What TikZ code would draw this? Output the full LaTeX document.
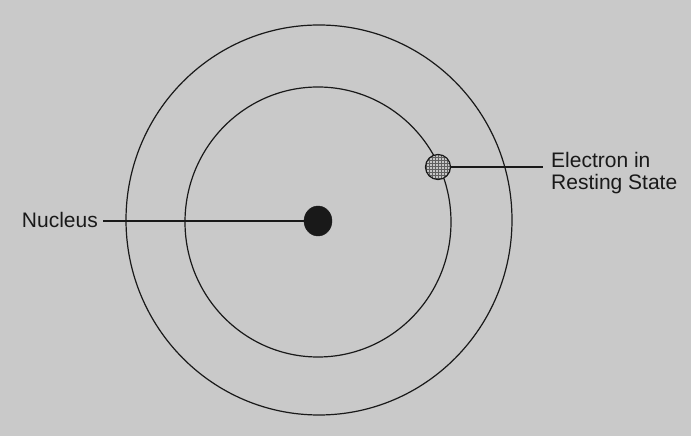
\documentclass[tikz,border=0pt]{standalone}
\usepackage{fontspec}
\setmainfont{Liberation Sans}
\usetikzlibrary{shapes.geometric}
\definecolor{bg}{RGB}{201,201,201}
\definecolor{ink}{RGB}{25,25,25}
\begin{document}
\begin{tikzpicture}[x=1pt,y=1pt,
  orbit/.style={draw=ink,line width=1.2pt},
  leader/.style={draw=ink,line width=1.2pt},
  lbl/.style={font=\fontsize{21}{22}\selectfont,text=ink,inner sep=0pt,align=left}]
\fill[bg] (0,0) rectangle (691,436);
\useasboundingbox (0,0) rectangle (691,436);
% orbits
\node[orbit,ellipse,minimum width=386pt,minimum height=390pt,inner sep=0pt] (outer) at (319,216) {};
\node[orbit,ellipse,minimum width=266pt,minimum height=270pt,inner sep=0pt] (inner) at (318,214) {};
% nucleus
\node[ellipse,fill=ink,draw=ink,minimum width=28pt,minimum height=30pt,inner sep=0pt] (nuc) at (318,215) {};
% electron
\begin{scope}
\clip (438,269) circle (12.5pt);
\fill[gray!45] (425,256) rectangle (451,282);
\draw[gray!75!black,line width=0.4pt,step=3pt] (424,255) grid (452,283);
\end{scope}
\node[circle,draw=ink,line width=1.2pt,minimum size=25pt,inner sep=0pt] (el) at (438,269) {};
% labels
\node[lbl,anchor=east] (nuclbl) at (98,216) {Nucleus};
\node[lbl,anchor=west] (ellbl) at (551,263) {Electron in\\Resting State};
\coordinate (nucend) at (103,215);
\coordinate (elend) at (543,269);
\draw[leader] (nucend) -- (nuc.west);
\draw[leader] (el.east) -- (elend);
\end{tikzpicture}
\end{document}
